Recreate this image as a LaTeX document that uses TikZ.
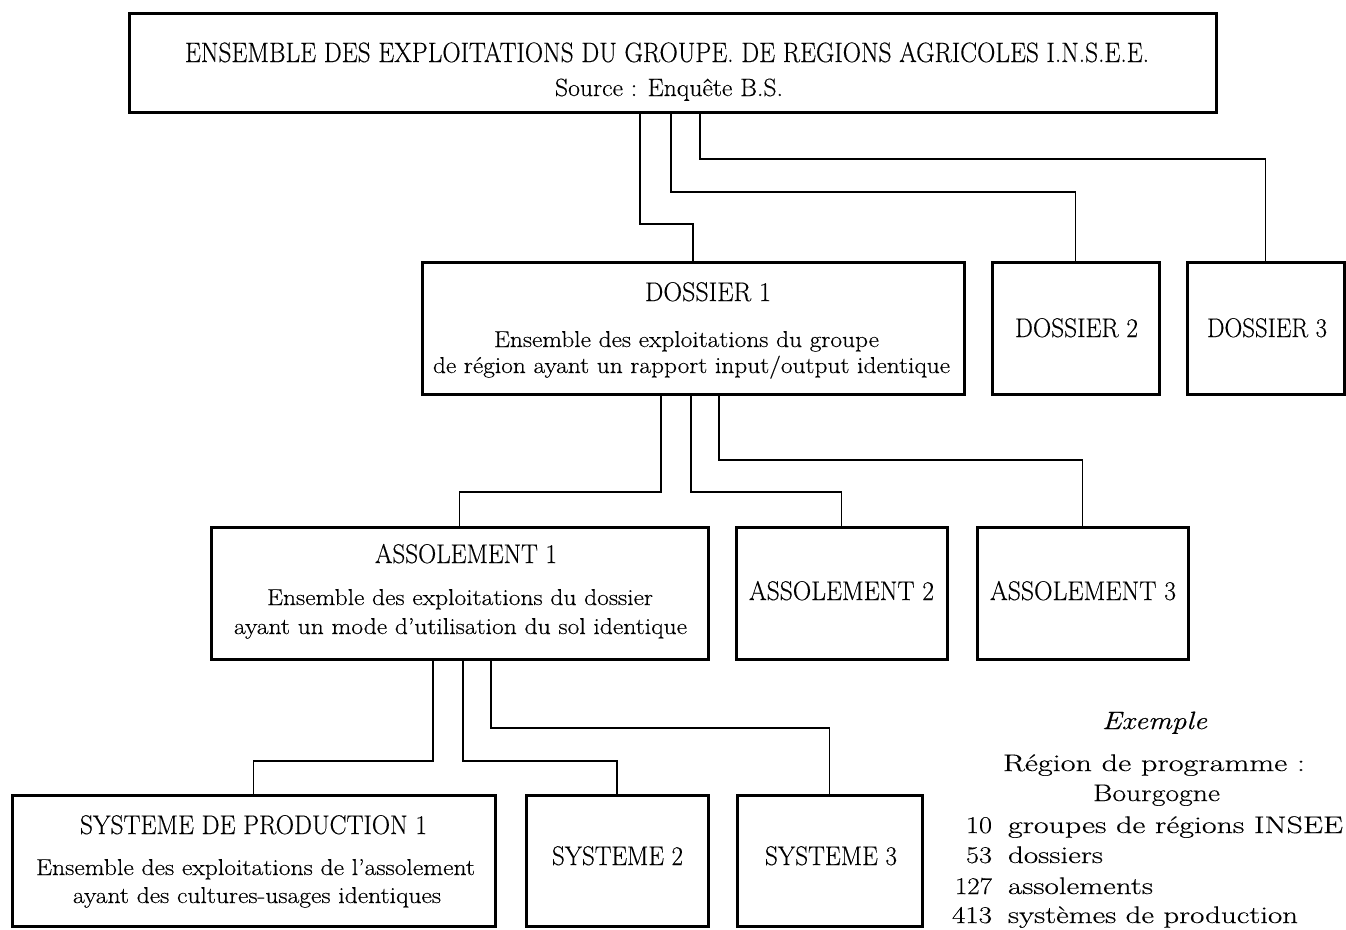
\documentclass[tikz,border=0pt]{standalone}
\usepackage{fontspec}
\setmainfont{Latin Modern Roman}[FakeBold=0.35]
\usepackage{graphicx}
\newcommand\fitw[2]{\resizebox{#1pt}{\height}{#2}}
\tikzset{
  box/.style={draw, line width=3pt, rectangle, inner sep=0pt, outer sep=0pt},
  conn/.style={draw, line width=1.4pt},
  txt/.style={inner sep=0pt, outer sep=0pt, anchor=base},
  head/.style={txt, font=\fontsize{27}{32}\selectfont},
  desc/.style={txt, font=\fontsize{23}{27}\selectfont},
  leg/.style={txt, font=\fontsize{24}{28}\selectfont},
}
\begin{document}
\begin{tikzpicture}[x=1pt,y=-1pt]
\useasboundingbox (0,0) rectangle (1346,929);
\fill[white] (0,0) rectangle (1346,929);

% boxes
\node[box, minimum width=1087pt, minimum height=99pt] (top) at (672.5,62.5) {};
\node[box, minimum width=542pt, minimum height=132pt] (d1) at (693,328) {};
\node[box, minimum width=167pt, minimum height=132pt] (d2) at (1075.5,328) {};
\node[box, minimum width=157pt, minimum height=132pt] (d3) at (1265.5,328) {};
\node[box, minimum width=497pt, minimum height=132pt] (a1) at (459.5,593) {};
\node[box, minimum width=211pt, minimum height=132pt] (a2) at (841.5,593) {};
\node[box, minimum width=211pt, minimum height=132pt] (a3) at (1082.5,593) {};
\node[box, minimum width=483pt, minimum height=131pt] (s1) at (253.5,860.5) {};
\node[box, minimum width=182pt, minimum height=131pt] (s2) at (617,860.5) {};
\node[box, minimum width=185pt, minimum height=131pt] (s3) at (829.5,860.5) {};

% texts
\node[head, font=\fontsize{28}{32}\selectfont] (ttitle) at (667,62) {\fitw{964}{ENSEMBLE DES EXPLOITATIONS DU GROUPE. DE REGIONS AGRICOLES I.N.S.E.E.}};
\node[desc, font=\fontsize{25}{29}\selectfont] (tsource) at (669,96) {\fitw{228}{Source : Enquête B.S.}};

\node[head] (td1) at (708,301) {\fitw{126}{DOSSIER 1}};
\node[desc] (td1a) at (686.5,347) {\fitw{385}{Ensemble des exploitations du groupe}};
\node[desc] (td1b) at (691.5,373) {\fitw{517}{de région ayant un rapport input/output identique}};
\node[head] (td2) at (1076.5,337) {\fitw{123}{DOSSIER 2}};
\node[head] (td3) at (1267,337) {\fitw{120}{DOSSIER 3}};

\node[head] (ta1) at (466,563) {\fitw{182}{ASSOLEMENT 1}};
\node[desc] (ta1a) at (460,605) {\fitw{386}{Ensemble des exploitations du dossier}};
\node[desc] (ta1b) at (460.5,634) {\fitw{453}{ayant un mode d'utilisation du sol identique}};
\node[head] (ta2) at (841.5,600) {\fitw{185}{ASSOLEMENT 2}};
\node[head] (ta3) at (1083,600) {\fitw{186}{ASSOLEMENT 3}};

\node[head] (ts1) at (253.5,834) {\fitw{347}{SYSTEME DE PRODUCTION 1}};
\node[desc] (ts1a) at (255.5,875) {\fitw{439}{Ensemble des exploitations de l'assolement}};
\node[desc] (ts1b) at (257,903) {\fitw{368}{ayant des cultures-usages identiques}};
\node[head] (ts2) at (617.5,865) {\fitw{131}{SYSTEME 2}};
\node[head] (ts3) at (831,865) {\fitw{132}{SYSTEME 3}};

% legend
\node[leg, font=\fontsize{25}{28}\itshape] (lex) at (1154.5,729) {\fitw{105}{Exemple}};
\node[leg] (lreg) at (1154,771) {\fitw{302}{Région de programme :}};
\node[leg] (lbou) at (1156.5,801) {\fitw{127}{Bourgogne}};
\node[leg, anchor=base east] (ln1) at (992,833) {\fitw{26}{10}};
\node[leg, anchor=base west] (lw1) at (1008,833) {\fitw{335}{groupes de régions INSEE}};
\node[leg, anchor=base east] (ln2) at (992,863) {\fitw{26}{53}};
\node[leg, anchor=base west] (lw2) at (1008,863) {\fitw{95}{dossiers}};
\node[leg, anchor=base east] (ln3) at (992,894) {\fitw{37}{127}};
\node[leg, anchor=base west] (lw3) at (1008,894) {\fitw{145}{assolements}};
\node[leg, anchor=base east] (ln4) at (992,923) {\fitw{40}{413}};
\node[leg, anchor=base west] (lw4) at (1008,923) {\fitw{290}{systèmes de production}};

% connectors
\draw[conn] (top.south -| 640,0) |- (d1.north |- 0,224) -- (d1.north);
\draw[conn] (top.south -| 671,0) |- (d2.north |- 0,192) -- (d2.north);
\draw[conn] (top.south -| 700,0) |- (d3.north |- 0,159) -- (d3.north);
\draw[conn] (d1.south -| 661,0) |- (a1.north |- 0,492) -- (a1.north);
\draw[conn] (d1.south -| 691,0) |- (a2.north |- 0,492) -- (a2.north);
\draw[conn] (d1.south -| 719,0) |- (a3.north |- 0,460) -- (a3.north);
\draw[conn] (a1.south -| 433,0) |- (s1.north |- 0,761) -- (s1.north);
\draw[conn] (a1.south -| 463,0) |- (s2.north |- 0,761) -- (s2.north);
\draw[conn] (a1.south -| 491,0) |- (s3.north |- 0,728) -- (s3.north);
\end{tikzpicture}
\end{document}
